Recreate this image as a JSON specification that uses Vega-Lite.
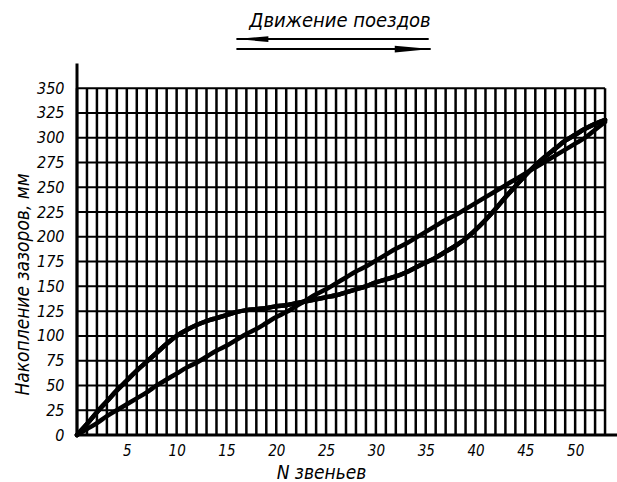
{
  "$schema": "https://vega.github.io/schema/vega-lite/v6.json",
  "width": 540,
  "height": 435,
  "autosize": {"type": "none"},
  "padding": {"left": 77, "top": 0, "right": 0, "bottom": 47},
  "background": "white",
  "config": {"view": {"stroke": null}},
  "resolve": {"axis": {"x": "independent", "y": "independent"}},
  "datasets": {
    "curves": [
      {"n":0,"a":0,"b":0},{"n":1,"a":11,"b":6},{"n":2,"a":23,"b":12},{"n":3,"a":34,"b":19},{"n":4,"a":45,"b":25},
      {"n":5,"a":55,"b":31},{"n":6,"a":65,"b":37},{"n":7,"a":74,"b":43},{"n":8,"a":83,"b":50},{"n":9,"a":92,"b":56},
      {"n":10,"a":100,"b":62},{"n":11,"a":106,"b":68},{"n":12,"a":111,"b":73},{"n":13,"a":115,"b":79},{"n":14,"a":118,"b":85},
      {"n":15,"a":121,"b":90},{"n":16,"a":124,"b":96},{"n":17,"a":126,"b":102},{"n":18,"a":127,"b":107},{"n":19,"a":128,"b":113},
      {"n":20,"a":130,"b":119},{"n":21,"a":131,"b":124},{"n":22,"a":133,"b":130},{"n":23,"a":135,"b":136},{"n":24,"a":137,"b":142},
      {"n":25,"a":139,"b":147},{"n":26,"a":141,"b":153},{"n":27,"a":144,"b":159},{"n":28,"a":147,"b":165},{"n":29,"a":150,"b":170},
      {"n":30,"a":154,"b":176},{"n":31,"a":157,"b":182},{"n":32,"a":160,"b":188},{"n":33,"a":164,"b":193},{"n":34,"a":169,"b":199},
      {"n":35,"a":174,"b":205},{"n":36,"a":179,"b":211},{"n":37,"a":185,"b":217},{"n":38,"a":191,"b":222},{"n":39,"a":198,"b":228},
      {"n":40,"a":207,"b":234},{"n":41,"a":217,"b":240},{"n":42,"a":228,"b":246},{"n":43,"a":240,"b":252},{"n":44,"a":251,"b":258},
      {"n":45,"a":262,"b":264},{"n":46,"a":272,"b":270},{"n":47,"a":281,"b":276},{"n":48,"a":289,"b":282},{"n":49,"a":297,"b":288},
      {"n":50,"a":303,"b":294},{"n":51,"a":309,"b":300},{"n":52,"a":314,"b":308},{"n":53,"a":318,"b":316}
    ],
    "vgrid": [
      {"n":0},{"n":1},{"n":2},{"n":3},{"n":4},{"n":5},{"n":6},{"n":7},{"n":8},{"n":9},
      {"n":10},{"n":11},{"n":12},{"n":13},{"n":14},{"n":15},{"n":16},{"n":17},{"n":18},{"n":19},
      {"n":20},{"n":21},{"n":22},{"n":23},{"n":24},{"n":25},{"n":26},{"n":27},{"n":28},{"n":29},
      {"n":30},{"n":31},{"n":32},{"n":33},{"n":34},{"n":35},{"n":36},{"n":37},{"n":38},{"n":39},
      {"n":40},{"n":41},{"n":42},{"n":43},{"n":44},{"n":45},{"n":46},{"n":47},{"n":48},{"n":49},
      {"n":50},{"n":51},{"n":52},{"n":53}
    ],
    "hgrid": [
      {"v":0},{"v":25},{"v":50},{"v":75},{"v":100},{"v":125},{"v":150},{"v":175},
      {"v":200},{"v":225},{"v":250},{"v":275},{"v":300},{"v":325},{"v":350}
    ],
    "arrows": [
      {"n1":16.0,"n2":35.3,"v":399.6},
      {"n1":16.0,"n2":35.5,"v":389.5}
    ],
    "headLeft": [{"n":17.6,"v":399.6}],
    "headRight": [{"n":33.7,"v":389.5}],
    "caption": [{"label":"Движение поездов","n":26.4,"v":411.7}]
  },
  "layer": [
    {
      "data": {"name": "curves"},
      "mark": {"type": "line", "color": "black", "strokeWidth": 4.5, "interpolate": "monotone", "strokeCap": "round", "strokeJoin": "round"},
      "encoding": {
        "x": {"field": "n", "type": "quantitative", "scale": {"domain": [0, 54.2], "nice": false, "zero": false},
          "axis": {
            "values": [5,10,15,20,25,30,35,40,45,50],
            "domain": false, "ticks": false, "grid": false,
            "labelFont": "DejaVu Sans Condensed", "labelFontStyle": "italic", "labelFontSize": 15,
            "labelColor": "black", "labelPadding": 8,
            "title": "N звеньев",
            "titleFont": "DejaVu Sans Condensed", "titleFontStyle": "italic", "titleFontWeight": "normal",
            "titleFontSize": 19, "titleColor": "black",
            "titleX": 244, "titleY": 43, "titleAlign": "center", "titleBaseline": "alphabetic"
          }},
        "y": {"field": "a", "type": "quantitative", "scale": {"domain": [0, 439], "nice": false, "zero": false},
          "axis": {
            "values": [0,25,50,75,100,125,150,175,200,225,250,275,300,325,350],
            "domain": false, "ticks": false, "grid": false,
            "labelFont": "DejaVu Sans Condensed", "labelFontStyle": "italic", "labelFontSize": 16,
            "labelColor": "black", "labelPadding": 13,
            "title": "Накопление зазоров, мм",
            "titleFont": "DejaVu Sans Condensed", "titleFontStyle": "italic", "titleFontWeight": "normal",
            "titleFontSize": 19, "titleColor": "black",
            "titleAngle": 270, "titleX": -49, "titleY": 284, "titleAlign": "center", "titleBaseline": "alphabetic"
          }}
      }
    },
    {
      "data": {"name": "vgrid"},
      "mark": {"type": "rule", "color": "black", "strokeWidth": 2.5},
      "encoding": {
        "x": {"field": "n", "type": "quantitative", "scale": {"domain": [0, 54.2], "nice": false, "zero": false}, "axis": null},
        "y": {"datum": 0, "type": "quantitative", "scale": {"domain": [0, 439], "nice": false, "zero": false}, "axis": null},
        "y2": {"datum": 350}
      }
    },
    {
      "data": {"name": "hgrid"},
      "mark": {"type": "rule", "color": "black", "strokeWidth": 2},
      "encoding": {
        "y": {"field": "v", "type": "quantitative", "scale": {"domain": [0, 439], "nice": false, "zero": false}, "axis": null},
        "x": {"datum": 0, "type": "quantitative", "scale": {"domain": [0, 54.2], "nice": false, "zero": false}, "axis": null},
        "x2": {"datum": 53}
      }
    },
    {
      "data": {"values": [{"v": 0}]},
      "mark": {"type": "rule", "color": "black", "strokeWidth": 3},
      "encoding": {
        "y": {"field": "v", "type": "quantitative", "scale": {"domain": [0, 439], "nice": false, "zero": false}, "axis": null},
        "x": {"datum": 0, "type": "quantitative", "scale": {"domain": [0, 54.2], "nice": false, "zero": false}, "axis": null},
        "x2": {"datum": 54.2}
      }
    },
    {
      "data": {"values": [{"n": 0}]},
      "mark": {"type": "rule", "color": "black", "strokeWidth": 3},
      "encoding": {
        "x": {"field": "n", "type": "quantitative", "scale": {"domain": [0, 54.2], "nice": false, "zero": false}, "axis": null},
        "y": {"datum": 0, "type": "quantitative", "scale": {"domain": [0, 439], "nice": false, "zero": false}, "axis": null},
        "y2": {"datum": 375}
      }
    },
    {
      "data": {"name": "curves"},
      "mark": {"type": "line", "color": "black", "strokeWidth": 4.5, "interpolate": "monotone", "strokeCap": "round", "strokeJoin": "round"},
      "encoding": {
        "x": {"field": "n", "type": "quantitative", "scale": {"domain": [0, 54.2], "nice": false, "zero": false}, "axis": null},
        "y": {"field": "a", "type": "quantitative", "scale": {"domain": [0, 439], "nice": false, "zero": false}, "axis": null}
      }
    },
    {
      "data": {"name": "curves"},
      "mark": {"type": "line", "color": "black", "strokeWidth": 4.5, "interpolate": "monotone", "strokeCap": "round", "strokeJoin": "round"},
      "encoding": {
        "x": {"field": "n", "type": "quantitative", "scale": {"domain": [0, 54.2], "nice": false, "zero": false}, "axis": null},
        "y": {"field": "b", "type": "quantitative", "scale": {"domain": [0, 439], "nice": false, "zero": false}, "axis": null}
      }
    },
    {
      "data": {"name": "arrows"},
      "mark": {"type": "rule", "color": "black", "strokeWidth": 2},
      "encoding": {
        "x": {"field": "n1", "type": "quantitative", "scale": {"domain": [0, 54.2], "nice": false, "zero": false}, "axis": null},
        "x2": {"field": "n2"},
        "y": {"field": "v", "type": "quantitative", "scale": {"domain": [0, 439], "nice": false, "zero": false}, "axis": null}
      }
    },
    {
      "data": {"name": "headLeft"},
      "mark": {"type": "point", "filled": true, "color": "black", "opacity": 1, "strokeWidth": 0,
        "shape": "M -1 0 L 1 -0.18 L 1 0.18 Z", "size": 1024},
      "encoding": {
        "x": {"field": "n", "type": "quantitative", "scale": {"domain": [0, 54.2], "nice": false, "zero": false}, "axis": null},
        "y": {"field": "v", "type": "quantitative", "scale": {"domain": [0, 439], "nice": false, "zero": false}, "axis": null}
      }
    },
    {
      "data": {"name": "headRight"},
      "mark": {"type": "point", "filled": true, "color": "black", "opacity": 1, "strokeWidth": 0,
        "shape": "M 1 0 L -1 -0.19 L -1 0.19 Z", "size": 1296},
      "encoding": {
        "x": {"field": "n", "type": "quantitative", "scale": {"domain": [0, 54.2], "nice": false, "zero": false}, "axis": null},
        "y": {"field": "v", "type": "quantitative", "scale": {"domain": [0, 439], "nice": false, "zero": false}, "axis": null}
      }
    },
    {
      "data": {"name": "caption"},
      "mark": {"type": "text", "color": "black", "font": "DejaVu Sans Condensed", "fontStyle": "italic",
        "fontSize": 20, "align": "center", "baseline": "alphabetic"},
      "encoding": {
        "x": {"field": "n", "type": "quantitative", "scale": {"domain": [0, 54.2], "nice": false, "zero": false}, "axis": null},
        "y": {"field": "v", "type": "quantitative", "scale": {"domain": [0, 439], "nice": false, "zero": false}, "axis": null},
        "text": {"field": "label"}
      }
    }
  ]
}
